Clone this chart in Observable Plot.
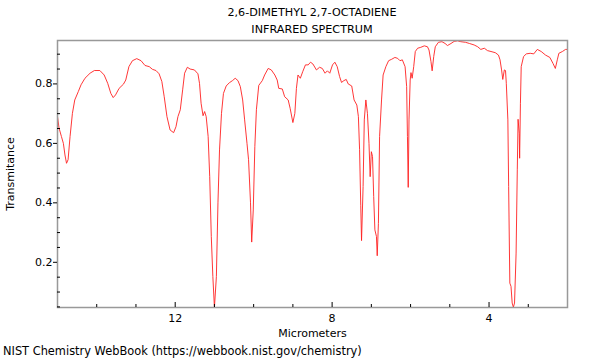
<!DOCTYPE html>
<html>
<head>
<meta charset="utf-8">
<script src="https://cdn.jsdelivr.net/npm/d3@7"></script>
<script src="https://cdn.jsdelivr.net/npm/@observablehq/plot@0.6"></script>
<style>
  html, body { margin: 0; padding: 0; background: white; }
  body { width: 600px; height: 360px; overflow: hidden; font-family: "DejaVu Sans", sans-serif; color: black; }
  #title { margin-left: 57px; width: 510px; text-align: center; font-size: 11.2px; line-height: 17px; padding-top: 4px; height: 34px; }
  #caption { font-size: 11.4px; line-height: 17px; padding-left: 3px; white-space: nowrap; }
  svg { display: block; }
</style>
</head>
<body>
<div id="title"></div>
<div id="chart"></div>
<div id="caption"></div>
<script>
const titleLines = ["2,6-DIMETHYL 2,7-OCTADIENE", "INFRARED SPECTRUM"];
const captionText = "NIST Chemistry WebBook (https://webbook.nist.gov/chemistry)";
const xLabel = "Micrometers";
const yLabel = "Transmitance";

const micrometers = [
  15.00, 14.96, 14.90, 14.85, 14.81, 14.77, 14.73, 14.68, 14.62, 14.56,
  14.47, 14.40, 14.30, 14.17, 14.06, 13.92, 13.81, 13.72, 13.64, 13.58,
  13.52, 13.43, 13.32, 13.26, 13.18, 13.09, 12.98, 12.87, 12.77, 12.66,
  12.58, 12.49, 12.41, 12.34, 12.28, 12.21, 12.13, 12.04, 11.98, 11.93,
  11.87, 11.81, 11.76, 11.69, 11.62, 11.51, 11.42, 11.38, 11.34, 11.29,
  11.25, 11.21, 11.16, 11.12, 11.08, 11.04, 11.00, 10.95, 10.91, 10.87,
  10.82, 10.77, 10.70, 10.62, 10.54, 10.47, 10.40, 10.34, 10.28, 10.23,
  10.17, 10.13, 10.08, 10.05, 10.01, 9.97, 9.93, 9.87, 9.78, 9.72,
  9.63, 9.55, 9.46, 9.40, 9.36, 9.27, 9.21, 9.12, 9.07, 9.00,
  8.95, 8.91, 8.87, 8.81, 8.75, 8.68, 8.61, 8.55, 8.49, 8.40,
  8.32, 8.25, 8.18, 8.12, 8.06, 7.99, 7.93, 7.87, 7.81, 7.76,
  7.70, 7.64, 7.59, 7.50, 7.44, 7.37, 7.33, 7.30, 7.27, 7.25,
  7.21, 7.18, 7.14, 7.10, 7.06, 7.03, 7.00, 6.97, 6.94, 6.91,
  6.87, 6.85, 6.82, 6.79, 6.74, 6.70, 6.63, 6.56, 6.48, 6.40,
  6.33, 6.27, 6.21, 6.14, 6.10, 6.08, 6.06, 6.04, 6.01, 5.99,
  5.96, 5.92, 5.88, 5.82, 5.74, 5.65, 5.57, 5.53, 5.48, 5.45,
  5.41, 5.37, 5.29, 5.20, 5.12, 5.06, 4.97, 4.89, 4.80, 4.72,
  4.60, 4.50, 4.38, 4.29, 4.21, 4.12, 4.04, 3.95, 3.84, 3.76,
  3.72, 3.68, 3.65, 3.61, 3.58, 3.56, 3.52, 3.50, 3.47, 3.44,
  3.41, 3.38, 3.35, 3.31, 3.28, 3.26, 3.23, 3.22, 3.20, 3.18,
  3.12, 3.05, 2.95, 2.86, 2.77, 2.67, 2.56, 2.45, 2.37, 2.31,
  2.26, 2.22, 2.13, 2.05, 2.00
];
const transmittance = [
  0.690, 0.651, 0.623, 0.600, 0.561, 0.533, 0.545, 0.623, 0.701, 0.746,
  0.774, 0.797, 0.819, 0.836, 0.845, 0.845, 0.830, 0.802, 0.768, 0.754,
  0.763, 0.785, 0.799, 0.813, 0.858, 0.878, 0.885, 0.878, 0.862, 0.858,
  0.849, 0.845, 0.834, 0.808, 0.757, 0.690, 0.645, 0.636, 0.656, 0.690,
  0.713, 0.780, 0.836, 0.856, 0.850, 0.847, 0.834, 0.802, 0.735, 0.693,
  0.707, 0.690, 0.623, 0.488, 0.287, 0.152, 0.048, 0.152, 0.400, 0.578,
  0.701, 0.768, 0.793, 0.804, 0.811, 0.819, 0.811, 0.791, 0.746, 0.679,
  0.600, 0.545, 0.400, 0.268, 0.376, 0.589, 0.713, 0.795, 0.811, 0.830,
  0.852, 0.847, 0.830, 0.813, 0.785, 0.783, 0.757, 0.746, 0.718, 0.670,
  0.701, 0.785, 0.830, 0.819, 0.841, 0.864, 0.864, 0.873, 0.867, 0.847,
  0.856, 0.852, 0.836, 0.844, 0.836, 0.864, 0.873, 0.858, 0.825, 0.805,
  0.811, 0.815, 0.800, 0.793, 0.746, 0.729, 0.690, 0.580, 0.390, 0.273,
  0.455, 0.679, 0.746, 0.701, 0.600, 0.488, 0.572, 0.556, 0.421, 0.309,
  0.287, 0.222, 0.331, 0.623, 0.746, 0.830, 0.858, 0.878, 0.883, 0.889,
  0.886, 0.878, 0.881, 0.858, 0.791, 0.623, 0.452, 0.679, 0.813, 0.838,
  0.819, 0.858, 0.909, 0.920, 0.923, 0.928, 0.925, 0.914, 0.875, 0.844,
  0.892, 0.925, 0.940, 0.942, 0.936, 0.929, 0.936, 0.943, 0.945, 0.942,
  0.940, 0.936, 0.931, 0.925, 0.916, 0.920, 0.912, 0.909, 0.905, 0.897,
  0.881, 0.847, 0.815, 0.847, 0.845, 0.802, 0.679, 0.455, 0.130, 0.119,
  0.063, 0.049, 0.063, 0.231, 0.511, 0.681, 0.634, 0.550, 0.735, 0.858,
  0.892, 0.901, 0.903, 0.901, 0.916, 0.909, 0.897, 0.889, 0.869, 0.852,
  0.881, 0.903, 0.909, 0.916, 0.916
];

const xMajorTicks = [12, 8, 4];
const xMinorTicks = [14, 13, 11, 10, 9, 7, 6, 5, 3];
const yMajorTicks = [0.2, 0.4, 0.6, 0.8];
const yMinorTicks = [0.05, 0.1, 0.15, 0.25, 0.3, 0.35, 0.45, 0.5, 0.55, 0.65, 0.7, 0.75, 0.85, 0.9];

const spectrum = micrometers.map((m, i) => ({um: m, t: transmittance[i]}));

document.getElementById("title").innerHTML = titleLines.map(s => `<div>${s}</div>`).join("");
document.getElementById("caption").textContent = captionText;

const chart = Plot.plot({
  width: 600,
  height: 305,
  marginTop: 2,
  marginBottom: 36,
  marginLeft: 57,
  marginRight: 33,
  style: {fontFamily: "DejaVu Sans", fontSize: "11px", color: "black", background: "white"},
  x: {domain: [15, 2]},
  y: {domain: [0.048, 0.946]},
  marks: [
    Plot.line(spectrum, {x: "um", y: "t", stroke: "#ff2020", strokeWidth: 0.9}),
    Plot.frame({stroke: "#999", strokeWidth: 1.5}),
    Plot.axisX({ticks: xMajorTicks, tickSize: 5, dy: -5, text: null, label: null}),
    Plot.axisX({ticks: xMinorTicks, tickSize: 3, dy: -3, text: null, label: null}),
    Plot.axisX({ticks: xMajorTicks, tickSize: 0, tickPadding: 7, tickFormat: d => String(d), label: null}),
    Plot.axisY({ticks: yMajorTicks, tickSize: 4, tickPadding: 1, tickFormat: d => d.toFixed(1), label: null}),
    Plot.axisY({ticks: yMinorTicks, tickSize: 3, dx: 3, text: null, label: null}),
    Plot.text([xLabel], {frameAnchor: "bottom", lineAnchor: "middle", textAnchor: "middle", dy: 26, text: d => d}),
    Plot.text([yLabel], {frameAnchor: "left", textAnchor: "middle", lineAnchor: "middle", rotate: -90, dx: -47, text: d => d})
  ]
});
document.getElementById("chart").appendChild(chart);
</script>
</body>
</html>
